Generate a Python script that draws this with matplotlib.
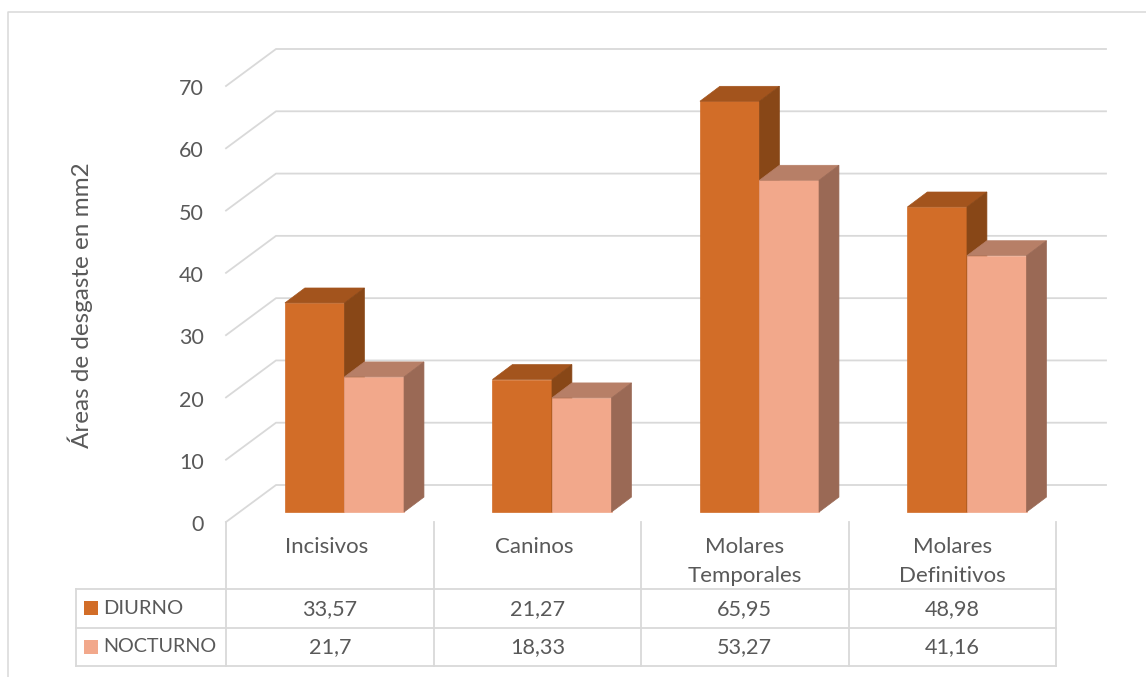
import matplotlib.pyplot as plt
from matplotlib.patches import Polygon, Rectangle

categories = ["Incisivos", "Caninos", "Molares\nTemporales", "Molares\nDefinitivos"]
diurno = [33.57, 21.27, 65.95, 48.98]
nocturno = [21.7, 18.33, 53.27, 41.16]
diurno_labels = ["33,57", "21,27", "65,95", "48,98"]
nocturno_labels = ["21,7", "18,33", "53,27", "41,16"]
yticks = [0, 10, 20, 30, 40, 50, 60, 70]

W, H = 1146, 677
GRID = "#D9D9D9"
TXT = "#595959"
DIURNO = ("#D26D28", "#A3541D", "#884717")
NOCTURNO = ("#F2A88B", "#B77F67", "#9A6955")

# depth of the 3d box, in data units
DEPTH_X, DEPTH_Y = 0.241, 5.94
BAR_W, BAR_DX, BAR_DY = 0.287, 0.096, 2.4
BAR_X0, BAR_Y0 = 0.284, 1.6

plt.rcParams["font.family"] = ["Lato", "DejaVu Sans"]

fig = plt.figure(figsize=(W / 100, H / 100), dpi=100)
# layout axes in pixels: frame and table
bg = fig.add_axes([0, 0, 1, 1])
bg.set_xlim(0, W)
bg.set_ylim(H, 0)
bg.axis("off")

ax = fig.add_axes([226 / W, 1 - 522 / H, 830 / W, 436 / H])
ax.set_xlim(0, 4)
ax.set_ylim(0, 70)
ax.axis("off")
ax.patch.set_alpha(0)


def box(x, h, cols):
    y0 = BAR_Y0
    top = y0 + h
    x1 = x + BAR_W
    ax.add_patch(Polygon([(x, y0), (x1, y0), (x1, top), (x, top)], fc=cols[0], ec=cols[0], lw=0.5, clip_on=False, zorder=3))
    ax.add_patch(Polygon([(x, top), (x1, top), (x1 + BAR_DX, top + BAR_DY), (x + BAR_DX, top + BAR_DY)],
                         fc=cols[1], ec=cols[1], lw=0.5, clip_on=False, zorder=3))
    ax.add_patch(Polygon([(x1, y0), (x1 + BAR_DX, y0 + BAR_DY), (x1 + BAR_DX, top + BAR_DY), (x1, top)],
                         fc=cols[2], ec=cols[2], lw=0.5, clip_on=False, zorder=3))


# outer frame, only left and top are visible
bg.plot([8, 8, W], [H, 12, 12], color=GRID, lw=1.1)

# gridlines run over the side wall and the back wall
for t in yticks:
    ax.plot([0, DEPTH_X, 4 + DEPTH_X], [t, t + DEPTH_Y, t + DEPTH_Y], color=GRID, lw=1.3, clip_on=False, zorder=1)
    ax.text(-0.107, t - 0.5, str(t), ha="right", va="center", color=TXT, fontsize=15.5, clip_on=False)

for i in range(len(categories)):
    box(i + BAR_X0, diurno[i], DIURNO)
    box(i + BAR_X0 + BAR_W, nocturno[i], NOCTURNO)

# data table
for px in [226, 433.5, 641, 848.5, 1056]:
    bg.plot([px, px], [522, 666], color=GRID, lw=1.3)
bg.plot([76, 76], [589, 666], color=GRID, lw=1.3)
for py in [589, 628, 666]:
    bg.plot([76, 1056], [py, py], color=GRID, lw=1.3)

col_w = 207.5
for i, cat in enumerate(categories):
    cx = 226 + col_w * (i + 0.5)
    for j, line in enumerate(cat.split("\n")):
        bg.text(cx - 3 + 1.5 * (i > 1) * 2, 547 + 29 * j, line, ha="center", va="center", color=TXT, fontsize=16)
    bg.text(cx, 609, diurno_labels[i], ha="center", va="center", color=TXT, fontsize=15.6)
    bg.text(cx, 647, nocturno_labels[i], ha="center", va="center", color=TXT, fontsize=15.6)

bg.add_patch(Rectangle((84, 601), 14, 14, fc=DIURNO[0], ec="none"))
bg.add_patch(Rectangle((84, 640), 14, 14, fc=NOCTURNO[0], ec="none"))
bg.text(103.5, 608, "DIURNO", ha="left", va="center", color=TXT, fontsize=14.5)
bg.text(103.5, 646, "NOCTURNO", ha="left", va="center", color=TXT, fontsize=14.2)

bg.text(80, 305, "Áreas de desgaste en mm2", rotation=90, ha="center", va="center", color=TXT, fontsize=17.5)

fig.savefig("out.png", dpi=100)
